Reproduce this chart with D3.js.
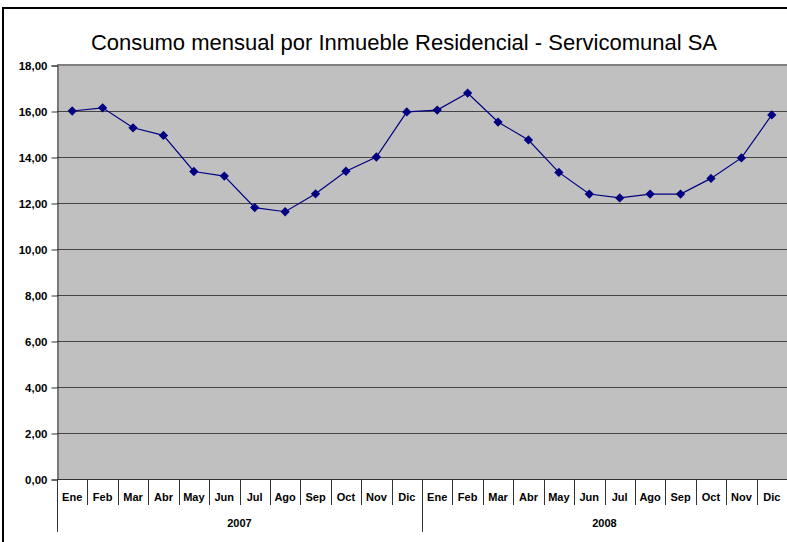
<!DOCTYPE html>
<html lang="es">
<head>
<meta charset="UTF-8">
<title>Consumo mensual</title>
<script src="https://cdn.jsdelivr.net/npm/d3@7"></script>
<style>
  body { margin: 0; background: #fff; }
  svg { display: block; font-family: "Liberation Sans", Arial, sans-serif; }
</style>
</head>
<body>
<div id="chart"></div>
<script>
// data
var months = ["Ene","Feb","Mar","Abr","May","Jun","Jul","Ago","Sep","Oct","Nov","Dic"];
var years = ["2007", "2008"];
var values2007 = [16.00, 16.14, 15.27, 14.94, 13.37, 13.17, 11.80, 11.62, 12.40, 13.38, 14.00, 15.96];
var values2008 = [16.04, 16.78, 15.52, 14.74, 13.33, 12.39, 12.22, 12.39, 12.39, 13.07, 13.96, 15.83];
var yTicks = [0, 2, 4, 6, 8, 10, 12, 14, 16, 18];

var W = 787, H = 542;
// plot box (window.top is read-only, so other names here)
var pLeft = 57, pTop = 65, pRight = 787, pBottom = 479;

var points = [];
years.forEach(function(yr, yi){
    var vals = yi === 0 ? values2007 : values2008;
    months.forEach(function(m, mi){
        points.push({ key: yr + "-" + m, month: m, year: yr, value: vals[mi] });
    });
});

var svg = d3.select("#chart").append("svg")
    .attr("width", W).attr("height", H);

// outer chart frame
svg.append("rect")
    .attr("x", 3).attr("y", 8)
    .attr("width", W + 10).attr("height", H + 10)
    .attr("fill", "#fff").attr("stroke", "#000").attr("stroke-width", 2);

var x = d3.scaleBand()
    .domain(points.map(function(d){ return d.key; }))
    .range([pLeft, pRight])
    .padding(0);

var y = d3.scaleLinear()
    .domain([0, 18])
    .range([pBottom, pTop]);

// plot area
svg.append("rect")
    .attr("x", pLeft).attr("y", pTop)
    .attr("width", pRight - pLeft).attr("height", pBottom - pTop)
    .attr("fill", "#c0c0c0");

// gridlines
svg.append("g").selectAll("line")
    .data(yTicks.slice(1, -1))
    .enter().append("line")
    .attr("x1", pLeft).attr("x2", pRight)
    .attr("y1", function(d){ return y(d) + 0.5; })
    .attr("y2", function(d){ return y(d) + 0.5; })
    .attr("stroke", "#444").attr("stroke-width", 1);

// top border of plot
svg.append("line")
    .attr("x1", pLeft).attr("x2", pRight)
    .attr("y1", pTop).attr("y2", pTop)
    .attr("stroke", "#808080").attr("stroke-width", 2);

// y axis
var yAxis = svg.append("g")
    .attr("transform", "translate(" + (pLeft + 0.5) + ",0.5)")
    .call(d3.axisLeft(y).tickValues(yTicks).tickSize(6).tickPadding(4)
        .tickFormat(function(d){ return d3.format(".2f")(d).replace(".", ","); }));
yAxis.selectAll("text")
    .attr("font-size", 11.5).attr("font-weight", "bold").attr("fill", "#000");
yAxis.selectAll("line, path").attr("stroke", "#333");

// x axis: month labels and separators
var xg = svg.append("g");
xg.append("line")
    .attr("x1", pLeft).attr("x2", pRight)
    .attr("y1", pBottom + 0.5).attr("y2", pBottom + 0.5)
    .attr("stroke", "#333");

xg.selectAll("line.sep")
    .data(points)
    .enter().append("line")
    .attr("class", "sep")
    .attr("x1", function(d){ return Math.round(x(d.key)) + 0.5; })
    .attr("x2", function(d){ return Math.round(x(d.key)) + 0.5; })
    .attr("y1", pBottom)
    .attr("y2", function(d){ return d.month === "Ene" ? 532 : 505; })
    .attr("stroke", "#333");

xg.selectAll("text.month")
    .data(points)
    .enter().append("text")
    .attr("class", "month")
    .attr("x", function(d){ return x(d.key) + x.bandwidth() / 2; })
    .attr("y", 501)
    .attr("text-anchor", "middle")
    .attr("font-size", 11).attr("font-weight", "bold")
    .text(function(d){ return d.month; });

xg.selectAll("text.year")
    .data(years)
    .enter().append("text")
    .attr("class", "year")
    .attr("x", function(d){
        var a = x(d + "-Ene"), b = x(d + "-Dic") + x.bandwidth();
        return (a + b) / 2;
    })
    .attr("y", 527)
    .attr("text-anchor", "middle")
    .attr("font-size", 11).attr("font-weight", "bold")
    .text(function(d){ return d; });

// series line
var line = d3.line()
    .x(function(d){ return x(d.key) + x.bandwidth() / 2; })
    .y(function(d){ return y(d.value); });

svg.append("path")
    .datum(points)
    .attr("d", line)
    .attr("fill", "none")
    .attr("stroke", "#000080")
    .attr("stroke-width", 1.2);

svg.append("g").selectAll("path")
    .data(points)
    .enter().append("path")
    .attr("d", d3.symbol().type(d3.symbolDiamond2).size(55))
    .attr("transform", function(d){
        return "translate(" + (x(d.key) + x.bandwidth() / 2) + "," + y(d.value) + ")";
    })
    .attr("fill", "#000080");

// title
svg.append("text")
    .attr("x", 404).attr("y", 50)
    .attr("text-anchor", "middle")
    .attr("font-size", 22)
    .attr("fill", "#000")
    .text("Consumo mensual por Inmueble Residencial - Servicomunal SA");
</script>
</body>
</html>
